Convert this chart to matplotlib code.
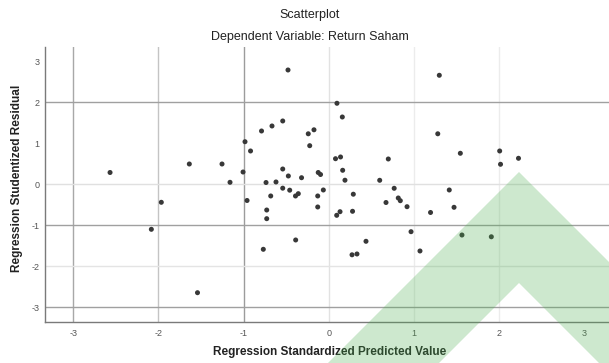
import matplotlib
matplotlib.use("Agg")
import matplotlib.pyplot as plt
from matplotlib.patches import Polygon

plt.rcParams['font.family'] = ['Liberation Sans', 'DejaVu Sans']

# Data (standardized predicted value, studentized residual)
pred = [-2.568, -2.083, -1.966, -1.637, -1.541, -1.253, -1.159, -1.006, -0.983, -0.918,
        -0.959, -0.768, -0.789, -0.728, -0.728, -0.736, -0.681, -0.619, -0.666, -0.540,
        -0.540, -0.540, -0.478, -0.474, -0.458, -0.390, -0.357, -0.388, -0.319, -0.240,
        -0.173, -0.223, -0.129, -0.123, -0.096, -0.063, -0.129, 0.097, 0.160, 0.080,
        0.139, 0.164, 0.191, 0.289, 0.133, 0.094, 0.280, 0.438, 0.274, 0.332,
        0.599, 0.700, 0.769, 0.817, 0.841, 0.673, 0.920, 0.967, 1.072, 1.196,
        1.299, 1.281, 1.546, 1.416, 1.472, 1.565, 1.910, 2.008, 2.018, 2.229]
resid = [0.285, -1.099, -0.441, 0.492, -2.643, 0.492, 0.046, 0.297, 1.035, 0.809,
         -0.397, -1.586, 1.296, -0.629, -0.840, 0.041, -0.287, 0.054, 1.418, 1.540,
         0.370, -0.097, 2.782, 0.200, -0.146, -0.287, -0.231, -1.359, 0.158, 1.228,
         1.325, 0.938, -0.287, 0.285, 0.236, -0.141, -0.555, 1.971, 1.637, 0.621,
         0.663, 0.339, 0.097, -0.244, -0.670, -0.758, -0.660, -1.391, -1.720, -1.700,
         0.095, 0.614, -0.100, -0.336, -0.402, -0.446, -0.548, -1.157, -1.627, -0.689,
         2.653, 1.228, 0.753, -0.141, -0.563, -1.238, -1.281, 0.809, 0.485, 0.631]

xticks = [-3, -2, -1, 0, 1, 2, 3]
yticks = [3, 2, 1, 0, -1, -2, -3]

title = "Scatterplot"
subtitle = "Dependent Variable: Return Saham"
xlabel = "Regression Standardized Predicted Value"
ylabel = "Regression Studentized Residual"

W, H = 609, 363
fig = plt.figure(figsize=(W / 100, H / 100), dpi=100)
ax = fig.add_axes([45 / W, 1 - 322 / H, (W - 45) / W, (322 - 47) / H])
ax.set_xlim(-3.332, 3.292)
ax.set_ylim(-3.357, 3.342)

# reference lines (appearance varies in the reference)
vstyle = {-3: '#a8a8a8', -2: '#c4c4c4', -1: '#9c9c9c', 0: '#e2e2e2', 1: '#ececec', 2: '#ececec'}
hstyle = {2: '#a0a0a0', 0: '#e0e0e0', -1: '#a0a0a0', -2: '#e4e4e4', -3: '#a0a0a0'}
for v, c in vstyle.items():
    ax.axvline(v, color=c, lw=1.0, zorder=1)
for v, c in hstyle.items():
    ax.axhline(v, color=c, lw=1.0, zorder=1)

ax.scatter(pred, resid, s=13, color='#383838', edgecolors='none', zorder=3)

ax.set_xticks(xticks)
ax.set_xticklabels([str(t) for t in xticks])
ax.set_yticks(yticks)
ax.set_yticklabels([str(t) for t in yticks])
ax.tick_params(axis='both', length=0, labelsize=6.5, colors='#555555', pad=5)
ax.tick_params(axis='y', pad=4)

for s in ['top', 'right']:
    ax.spines[s].set_visible(False)
for s in ['left', 'bottom']:
    ax.spines[s].set_color('#7a7a7a')
    ax.spines[s].set_linewidth(1.0)

fig.text(310 / W, 1 - 15 / H, title, ha='center', va='center', fontsize=9, color='#222222')
fig.text(310 / W, 1 - 37 / H, subtitle, ha='center', va='center', fontsize=9, color='#222222')
fig.text(330 / W, 1 - 352 / H, xlabel, ha='center', va='center', fontsize=8.5,
         fontweight='bold', color='#222222')
fig.text(17 / W, 1 - 178.5 / H, ylabel, ha='center', va='center', rotation=90, fontsize=8.5,
         fontweight='bold', color='#222222')

# light green chevron overlay seen in the reference
pts = [(328, 363), (519, 172), (609, 262), (609, 363), (599, 363), (519, 283), (439, 363)]
poly = Polygon([(x / W, 1 - y / H) for x, y in pts], closed=True, transform=fig.transFigure,
               facecolor='#4caf50', edgecolor='none', alpha=0.28, zorder=10)
fig.patches.append(poly)

fig.savefig("out.png", dpi=100)
